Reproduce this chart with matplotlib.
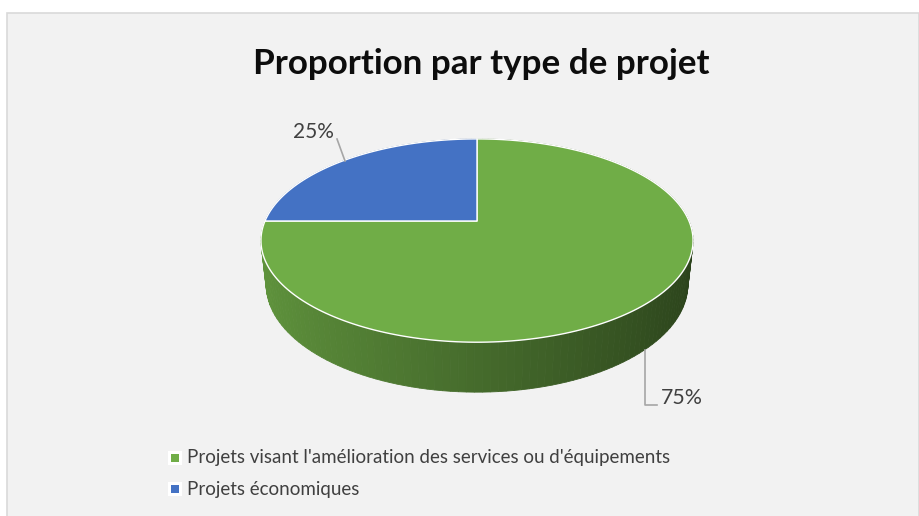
import numpy as np
import matplotlib
matplotlib.use("Agg")
import matplotlib.pyplot as plt
from matplotlib.patches import Polygon, Rectangle

plt.rcParams['font.family'] = ['Lato', 'DejaVu Sans']

# data
title = "Proportion par type de projet"
categories = ["Projets visant l'amélioration des services ou d'équipements",
              "Projets économiques"]
values = [75, 25]
colors = ["#70AD47", "#4472C4"]

# 3D pie geometry (pixel space)
cx, cy, s = 477, 221, 212
el = np.radians(27.5)
d = 4.61
h = 0.236


def proj(u, v, z):
    depth = d + v * np.cos(el) - z * np.sin(el)
    yc = v * np.sin(el) + z * np.cos(el)
    return cx + s * u * d / depth, cy - s * yc * d / depth


def shade(col, f):
    rgb = np.array(matplotlib.colors.to_rgb(col))
    return tuple(np.clip(rgb * f, 0, 1))


fig = plt.figure(figsize=(9.2, 5.16), dpi=100)
ax = fig.add_axes([0, 0, 1, 1])
ax.set_xlim(0, 920)
ax.set_ylim(516, 0)
ax.axis('off')

# chart area
ax.add_patch(Rectangle((7, 13), 912, 530, facecolor="#f2f2f2",
                       edgecolor="#d9d9d9", lw=1.2, zorder=0))

fracs = np.array(values) / sum(values)
bounds = np.concatenate([[0], np.cumsum(fracs)]) * 2 * np.pi

# side walls, far strips first
strips = []
for i, col in enumerate(colors):
    th = np.linspace(bounds[i], bounds[i + 1], int(200 * fracs[i]) + 2)
    for a, b in zip(th[:-1], th[1:]):
        um, vm = np.sin((a + b) / 2), np.cos((a + b) / 2)
        pts = [proj(np.sin(a), np.cos(a), 0), proj(np.sin(b), np.cos(b), 0),
               proj(np.sin(b), np.cos(b), -h), proj(np.sin(a), np.cos(a), -h)]
        f = np.clip(0.62 - 0.24 * um, 0.38, 0.9)
        strips.append((vm, pts, shade(col, f)))
strips.sort(key=lambda t: -t[0])
for vm, pts, c in strips:
    ax.add_patch(Polygon(pts, closed=True, facecolor=c, edgecolor=c,
                         lw=0.6, zorder=2))

# top faces
for i, col in enumerate(colors):
    th = np.linspace(bounds[i], bounds[i + 1], 200)
    pts = [proj(0, 0, 0)] + [proj(np.sin(t), np.cos(t), 0) for t in th]
    ax.add_patch(Polygon(pts, closed=True, facecolor=col, edgecolor="white",
                         lw=1.0, zorder=3, joinstyle='round'))

txts = []


def fit(t, w):
    txts.append((t, w))


# labels with leader lines
pct = [f"{v}%" for v in values]
ax.plot([645, 645, 657], [350, 405, 405], color="#a6a6a6", lw=1.2, zorder=4)
fit(ax.text(682, 398, pct[0], ha='center', va='center', color="#404040",
            fontsize=14), 42)
ax.plot([337, 345], [139, 161], color="#a6a6a6", lw=1.2, zorder=4)
fit(ax.text(313, 132, pct[1], ha='center', va='center', color="#404040",
            fontsize=14), 41)

# title
fit(ax.text(481, 64, title, ha='center', va='center', fontweight='bold',
            color="#0d0d0d", fontsize=22), 456)

# legend
leg_y = [458, 489]
for i, (lab, col) in enumerate(zip(categories, colors)):
    ax.add_patch(Rectangle((168, leg_y[i] - 7), 14, 14, facecolor="white",
                           edgecolor="none", zorder=4))
    ax.add_patch(Rectangle((171.5, leg_y[i] - 4), 8, 8, facecolor=col,
                           edgecolor="none", zorder=5))
    t = ax.text(187, leg_y[i], lab, ha='left', va='center', color="#404040",
                fontsize=14)
    if i == 0:
        fit(t, 485)
        leg0 = t
    else:
        leg1 = t

fig.canvas.draw()
r = fig.canvas.get_renderer()
for t, w in txts:
    bb = t.get_window_extent(r)
    t.set_fontsize(t.get_fontsize() * w / bb.width)
leg1.set_fontsize(leg0.get_fontsize())

fig.savefig("out.png", dpi=100, facecolor="white")
